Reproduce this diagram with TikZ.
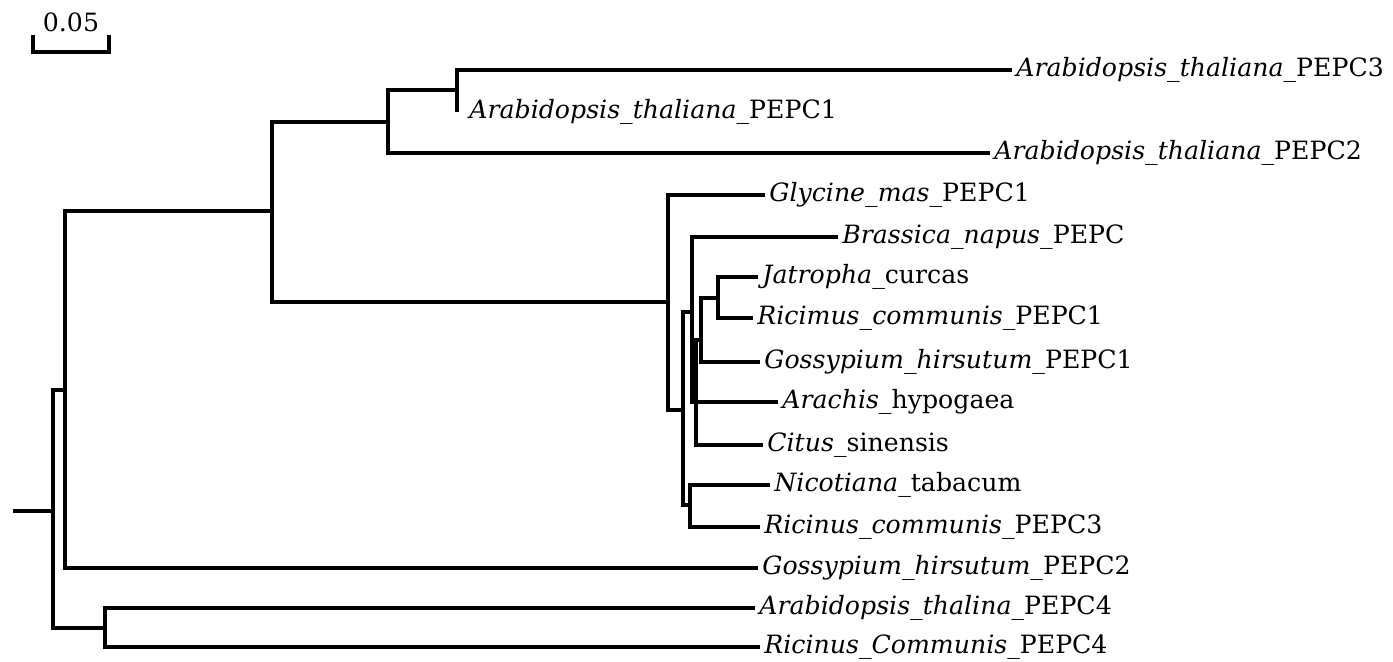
\documentclass[tikz,border=0pt]{standalone}
\usepackage{fontspec}
\setmainfont{DejaVu Serif}
\tikzset{
  branch/.style={line width=1.9pt},
  taxon/.style={anchor=west, inner xsep=2pt, inner ysep=0pt, text height=0.66em, text depth=0pt,
    font=\fontsize{12.6}{15}\selectfont},
}

\begin{document}
\begin{tikzpicture}[x=0.5pt, y=-0.5pt]
  \useasboundingbox (0,0) rectangle (1393,662);
  % scale bar
  \coordinate (sbl) at (33,35);
  \coordinate (sbm) at (109,52);
  \coordinate (sbr) at (109,35);
  \node[font=\fontsize{12.6}{15}\selectfont] (sblabel) at (71,22) {0.05};
  \draw[branch] (sbl) |- (sbm) -- (sbr);
  % inner nodes
  \coordinate (base) at (13,511);
  \coordinate (root) at (53,511);
  \coordinate (n1) at (65,390);
  \coordinate (n2) at (272,211);
  \coordinate (n3) at (388,122);
  \coordinate (n4) at (457,90);
  \coordinate (n5) at (668,302);
  \coordinate (n6) at (683,410);
  \coordinate (n7) at (692,312);
  \coordinate (n8) at (690,505);
  \coordinate (n9) at (696,402);
  \coordinate (n10) at (701,340);
  \coordinate (n11) at (718,298);
  \coordinate (n12) at (105,628);
  % taxa
  \node[taxon] (atc3) at (1012,70) {\textit{Arabidopsis\_thaliana\_}PEPC3};
  \node[taxon, inner xsep=6pt] (atc1) at (457,112) {\textit{Arabidopsis\_thaliana\_}PEPC1};
  \node[taxon] (atc2) at (990,153) {\textit{Arabidopsis\_thaliana\_}PEPC2};
  \node[taxon] (gm1) at (765,195) {\textit{Glycine\_mas\_}PEPC1};
  \node[taxon] (bn) at (838,237) {\textit{Brassica\_napus\_}PEPC};
  \node[taxon] (jc) at (758,277) {\textit{Jatropha\_}curcas};
  \node[taxon] (rc1) at (753,318) {\textit{Ricimus\_communis\_}PEPC1};
  \node[taxon] (gh1) at (760,362) {\textit{Gossypium\_hirsutum\_}PEPC1};
  \node[taxon] (ah) at (778,402) {\textit{Arachis\_}hypogaea};
  \node[taxon] (cs) at (763,445) {\textit{Citus\_}sinensis};
  \node[taxon] (nt) at (770,485) {\textit{Nicotiana\_}tabacum};
  \node[taxon] (rc3) at (760,527) {\textit{Ricinus\_communis\_}PEPC3};
  \node[taxon] (gh2) at (758,568) {\textit{Gossypium\_hirsutum\_}PEPC2};
  \node[taxon] (at4) at (755,608) {\textit{Arabidopsis\_thalina\_}PEPC4};
  \node[taxon] (rc4) at (760,647) {\textit{Ricinus\_Communis\_}PEPC4};
  % branches
  \draw[branch] (base) -- (root);
  \draw[branch] (root) |- (n1);
  \draw[branch] (root) |- (n12);
  \draw[branch] (n1) |- (n2);
  \draw[branch] (n1) |- (gh2.west);
  \draw[branch] (n2) |- (n3);
  \draw[branch] (n2) |- (n5);
  \draw[branch] (n3) |- (n4);
  \draw[branch] (n3) |- (atc2.west);
  \draw[branch] (n4) |- (atc3.west);
  \draw[branch] (n4) |- (atc1.west);
  \draw[branch] (n5) |- (gm1.west);
  \draw[branch] (n5) |- (n6);
  \draw[branch] (n6) |- (n7);
  \draw[branch] (n6) |- (n8);
  \draw[branch] (n7) |- (bn.west);
  \draw[branch] (n7) |- (n9);
  \draw[branch] (n9) |- (n10);
  \draw[branch] (n9) |- (ah.west);
  \draw[branch] (n9) |- (cs.west);
  \draw[branch] (n10) |- (n11);
  \draw[branch] (n10) |- (gh1.west);
  \draw[branch] (n11) |- (jc.west);
  \draw[branch] (n11) |- (rc1.west);
  \draw[branch] (n8) |- (nt.west);
  \draw[branch] (n8) |- (rc3.west);
  \draw[branch] (n12) |- (at4.west);
  \draw[branch] (n12) |- (rc4.west);
\end{tikzpicture}
\end{document}
